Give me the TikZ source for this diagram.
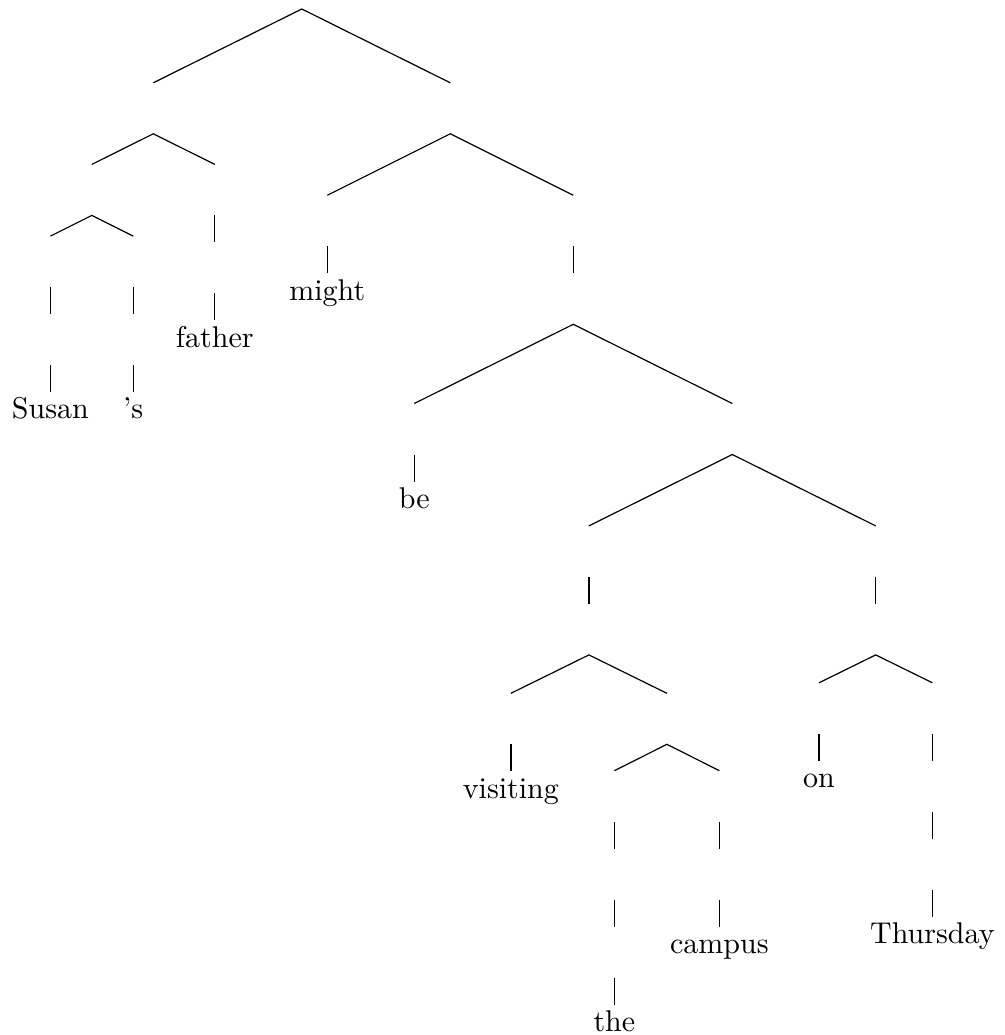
\documentclass[tikz,border=0pt]{standalone}
\usepackage{tikz}
\usetikzlibrary{positioning}
\tikzset{
  slot/.style={
    inner sep=0pt, outer sep=0pt, minimum width=0pt, minimum height=17pt},
  word/.style={
    inner sep=2pt, outer sep=0pt, text height=6.9pt},
  branch/.style={draw=black}
}

\begin{document}
\begin{tikzpicture}[node distance=9pt]
        \useasboundingbox (0,0) rectangle (334.7pt,-345pt);

        \node[slot, anchor=south] (s) at (100.6pt,-3pt) {};

        % subject
        \node[slot, below left=24.6pt and 49.5pt of s] (np) {};
        \node[slot, below left=10.2pt and 20.5pt of np] (dp) {};
        \node[slot, below right=10.2pt and 20.5pt of np] (n) {};
        \node[slot, below left=6.9pt and 13.8pt of dp] (dpl) {};
        \node[slot, below right=6.9pt and 13.8pt of dp] (dpr) {};
        \node[slot, below=of dpl] (dpl2) {};
        \node[slot, below=of dpr] (dpr2) {};
        \node[word, below=of dpl2] (susan) {Susan};
        \node[word, below=of dpr2] (poss) {'s};
        \node[slot, below=of n] (n2) {};
        \node[word, below=of n2] (father) {father};

        % predicate
        \node[slot, below right=24.6pt and 49.5pt of s] (vp) {};
        \node[slot, below left=20.5pt and 41pt of vp] (md) {};
        \node[word, below=of md] (might) {might};
        \node[slot, below right=20.5pt and 41pt of vp] (vp1) {};
        \node[slot, below=of vp1] (vp1b) {};
        \node[slot, below left=26.4pt and 53pt of vp1b] (be1) {};
        \node[word, below=of be1] (bev) {be};
        \node[slot, below right=26.4pt and 53pt of vp1b] (vp2) {};
        \node[slot, below left=23.8pt and 47.8pt of vp2] (vp3) {};
        \node[slot, below right=23.8pt and 47.8pt of vp2] (pp) {};
        \node[slot, below=of vp3] (vp3b) {};
        \node[slot, below left=12.8pt and 26pt of vp3b] (vv) {};
        \node[word, below=of vv] (visiting) {visiting};
        \node[slot, below right=12.8pt and 26pt of vp3b] (obj) {};
        \node[slot, below left=8.8pt and 17.5pt of obj] (detp) {};
        \node[slot, below right=8.8pt and 17.5pt of obj] (nobj) {};
        \node[slot, below=of detp] (detp2) {};
        \node[slot, below=of detp2] (detp3) {};
        \node[word, below=of detp3] (the) {the};
        \node[slot, below=of nobj] (nobj2) {};
        \node[word, below=of nobj2] (campus) {campus};
        \node[slot, below=of pp] (pp2) {};
        \node[slot, below left=9.3pt and 18.9pt of pp2] (prep) {};
        \node[word, below=of prep] (on) {on};
        \node[slot, below right=9.3pt and 18.9pt of pp2] (pobj) {};
        \node[slot, below=of pobj] (pobj2) {};
        \node[slot, below=of pobj2] (pobj3) {};
        \node[word, below=of pobj3] (thursday) {Thursday};

        \draw[branch] (np.north) -- (s.south) -- (vp.north);
        \draw[branch] (dp.north) -- (np.south) -- (n.north);
        \draw[branch] (dpl.north) -- (dp.south) -- (dpr.north);
        \draw[branch] (dpl.south) -- (dpl2.north);
        \draw[branch] (dpl2.south) -- (susan.north);
        \draw[branch] (dpr.south) -- (dpr2.north);
        \draw[branch] (dpr2.south) -- (poss.north);
        \draw[branch] (n.south) -- (n2.north);
        \draw[branch] (n2.south) -- (father.north);
        \draw[branch] (md.north) -- (vp.south) -- (vp1.north);
        \draw[branch] (md.south) -- (might.north);
        \draw[branch] (vp1.south) -- (vp1b.north);
        \draw[branch] (be1.north) -- (vp1b.south) -- (vp2.north);
        \draw[branch] (be1.south) -- (bev.north);
        \draw[branch] (vp3.north) -- (vp2.south) -- (pp.north);
        \draw[branch] (vp3.south) -- (vp3b.north);
        \draw[branch] (vv.north) -- (vp3b.south) -- (obj.north);
        \draw[branch] (vv.south) -- (visiting.north);
        \draw[branch] (detp.north) -- (obj.south) -- (nobj.north);
        \draw[branch] (detp.south) -- (detp2.north);
        \draw[branch] (detp2.south) -- (detp3.north);
        \draw[branch] (detp3.south) -- (the.north);
        \draw[branch] (nobj.south) -- (nobj2.north);
        \draw[branch] (nobj2.south) -- (campus.north);
        \draw[branch] (pp.south) -- (pp2.north);
        \draw[branch] (prep.north) -- (pp2.south) -- (pobj.north);
        \draw[branch] (prep.south) -- (on.north);
        \draw[branch] (pobj.south) -- (pobj2.north);
        \draw[branch] (pobj2.south) -- (pobj3.north);
        \draw[branch] (pobj3.south) -- (thursday.north);
      \end{tikzpicture}
\end{document}
